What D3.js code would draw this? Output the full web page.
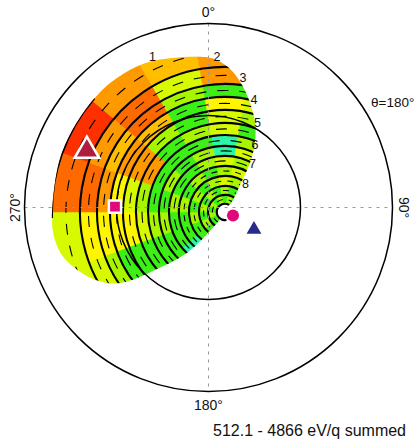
<!DOCTYPE html>
<html>
<head>
<meta charset="utf-8">
<script src="https://d3js.org/d3.v7.min.js"></script>
<style>
body { margin: 0; background: #fff; }
text { font-family: "Liberation Sans", Arial, Helvetica, sans-serif; fill: #111; }
</style>
</head>
<body>
<div class="skymap"></div>
<script>
// ---- data -------------------------------------------------------------
// pole of the anode pattern, in plot coordinates (polar angle, azimuth)
var poleR = 16.7, poleAngle = 105;

// ring edges (deg from pole), 13 bands between them
var ringEdges = [8, 16.6, 25.4, 35.2, 45, 54.8, 64.6, 75.3, 87.1, 99.8, 112.5, 125.2, 141.9, 169.3];
// azimuth bins (deg, clockwise from up, around the pole)
var sectors = [210, 230, 250, 270, 290, 310, 330, 350, 370, 390];
var sectorWidth = 20;
// colour level per band (rows, inner to outer) and azimuth bin (cols)
var counts = [
  [1, 1, 2, 1, 2, 1, 2, 1, 2, 1],
  [1, 2, 1, 2, 1, 2, 1, 2, 1, 1],
  [1, 1, 2, 1, 2, 1, 2, 3, 2, 1],
  [0, 1, 1, 2, 1, 2, 1, 2, 3, 2],
  [0, 1, 1, 2, 1, 1, 2, 3, 2, 2],
  [1, 1, 2, 1, 2, 1, 2, 0, 3, 3],
  [1, 1, 2, 1, 1, 1, 1, 0, 2, 2],
  [1, 1, 3, 2, 6, 1, 2, 3, 1, 1],
  [1, 1, 4, 3, 6, 2, 1, 3, 2, 2],
  [1, 1, 4, 4, 6, 5, 1, 4, 3, 3],
  [1, 2, 4, 6, 5, 7, 2, 1, 1, 1],
  [2, 3, 4, 7, 6, 7, 3, 6, 6, 6],
  [3, 3, 3, 7, 8, 6, 5, 6, 6, 6]
];
var levelColors = ["#2cf5a8", "#3cef14", "#a8f500", "#d8fa00", "#fff500",
                   "#ffbf00", "#ff9900", "#ff6a00", "#ff3000"];

// edge of the field of view around the pole
var coverAngle = [214, 219, 223, 230, 234.5, 238, 245, 254.5, 263, 268, 290, 311,
                  322.5, 333.4, 351, 357, 363.3, 371.3, 378.6, 383.5, 387, 389, 394, 394];
var coverR     = [8, 26.4, 54.8, 87, 117.4, 132, 148.7, 164.4, 169.5, 169.5, 169.8, 169.5,
                  168, 164.4, 153.6, 148.7, 137, 114.5, 92, 73.4, 53.8, 30.3, 13.7, 8];

// anode tracks (thick arcs)
var arcR     = [8, 16.6, 25.4, 35.2, 45, 54.8, 64.6, 75.3, 87.1, 99.8, 112.5, 125.2, 141.9, 169.3];
var arcStart = [170, 205, 205, 205, 205, 205, 205, 205, 205, 205, 205, 205, 205, 268];
var arcEnd   = [390, 400, 400, 400, 400, 400, 400, 400, 400, 400, 400, 400, 400, 311];

// anode numbers
var anodeLabels = ["1", "2", "3", "4", "5", "6", "7", "8"];
var labelR      = [168, 152, 133, 113.5, 93, 72, 54, 34];
var labelAngle  = [-25, -3, 7.6, 14.5, 20, 24, 30, 36];

// markers in plot coordinates
var markerNames = ["planet", "sun", "ram", "field"];
var markerR     = [131.3, 91.5, 25.2, 49.4];
var markerAngle = [295, 270.6, 108, 115.8];

var tickLabels = ["0\u00b0", "90\u00b0", "180\u00b0", "270\u00b0"];
var energyText = "512.1 - 4866 eV/q summed";

// ---- layout -----------------------------------------------------------
var width = 419, height = 441;
var cx = 208.5, cy = 207.5, R = 184;
var rad = Math.PI / 180;

var r = d3.scaleLinear().domain([0, 180]).range([0, R]);
var color = d3.scaleOrdinal().domain(d3.range(levelColors.length)).range(levelColors);

function project(deg, ang) {
  var a = ang * rad;
  return [r(deg) * Math.sin(a), -r(deg) * Math.cos(a)];
}
function arcPath(radius, a0, a1) {
  var p = d3.path();
  p.arc(0, 0, radius, (a0 - 90) * rad, (a1 - 90) * rad);
  return p.toString();
}

var svg = d3.select(".skymap").append("svg")
    .attr("width", width)
    .attr("height", height);

var g = svg.append("g")
    .attr("transform", "translate(" + cx + "," + cy + ")");

// heat map around the pole
var hm = g.append("g")
    .attr("transform", "translate(" + project(poleR, poleAngle) + ")");

var outline = d3.lineRadial()
    .angle(function(d, i) { return coverAngle[i] * rad; })
    .radius(function(d, i) { return r(coverR[i]); })
    .curve(d3.curveCatmullRomClosed.alpha(0.5));

hm.append("clipPath")
    .attr("id", "fov")
  .append("path")
    .attr("d", outline(coverAngle));

var inside = hm.append("g").attr("clip-path", "url(#fov)");

var cells = [];
counts.forEach(function(row, i) {
  row.forEach(function(v, j) {
    cells.push({r0: ringEdges[i], r1: ringEdges[i + 1], a0: sectors[j], a1: sectors[j] + sectorWidth, v: v});
  });
});

var cellArc = d3.arc()
    .innerRadius(function(d) { return r(d.r0); })
    .outerRadius(function(d) { return r(d.r1); })
    .startAngle(function(d) { return d.a0 * rad; })
    .endAngle(function(d) { return d.a1 * rad; });

inside.selectAll(".cell")
  .data(cells)
  .enter().append("path")
    .attr("class", "cell")
    .attr("d", cellArc)
    .attr("fill", function(d) { return color(d.v); })
    .attr("stroke", function(d) { return color(d.v); })
    .attr("stroke-width", 0.6);

// short dashes along the middle of each band
inside.selectAll(".mid")
  .data(counts)
  .enter().append("path")
    .attr("class", "mid")
    .attr("d", function(d, i) {
      return arcPath(r((ringEdges[i] + ringEdges[i + 1]) / 2), 212, 400);
    })
    .attr("fill", "none")
    .attr("stroke", "#000")
    .attr("stroke-width", 1.1)
    .attr("stroke-dasharray", function(d, i) { return i < 4 ? "6,6" : "11,11"; })
    .attr("stroke-dashoffset", function(d, i) { return (i * 7) % 17; });

// anode tracks
inside.selectAll(".track")
  .data(arcR.slice(1))
  .enter().append("path")
    .attr("class", "track")
    .attr("d", function(d, i) { return arcPath(r(d), arcStart[i + 1], arcEnd[i + 1]); })
    .attr("fill", "none")
    .attr("stroke", "#000")
    .attr("stroke-width", 2.1);

hm.append("path")
    .attr("d", arcPath(r(arcR[0]), arcStart[0], arcEnd[0]))
    .attr("fill", "#fff")
    .attr("stroke", "#000")
    .attr("stroke-width", 2.1);

hm.selectAll(".anode")
  .data(anodeLabels)
  .enter().append("text")
    .attr("class", "anode")
    .attr("transform", function(d, i) { return "translate(" + project(labelR[i], labelAngle[i]) + ")"; })
    .attr("dy", "0.35em")
    .attr("text-anchor", "middle")
    .style("font-size", "12.5px")
    .text(function(d) { return d; });

// dashed cross hair
g.append("line")
    .attr("class", "axis")
    .attr("x1", -R).attr("x2", R).attr("y1", 0).attr("y2", 0);
g.append("line")
    .attr("class", "axis")
    .attr("y1", -R).attr("y2", R).attr("x1", 0).attr("x2", 0);
g.selectAll(".axis")
    .attr("stroke", "#999")
    .attr("stroke-width", 1)
    .attr("stroke-dasharray", "3,5");

// polar angle circles: 90 and 180 deg
g.selectAll(".ring")
  .data([90, 180])
  .enter().append("circle")
    .attr("class", "ring")
    .attr("r", function(d) { return r(d); })
    .attr("fill", "none")
    .attr("stroke", "#000")
    .attr("stroke-width", 1.5);

// markers
var symbols = [
  d3.symbol().type(d3.symbolTriangle).size(260),
  d3.symbol().type(d3.symbolSquare).size(150),
  d3.symbol().type(d3.symbolCircle).size(115),
  d3.symbol().type(d3.symbolTriangle).size(95)
];
var fills = ["#b01c3c", "#e0087a", "#e0087a", "#2a2a8a"];
var outlines = ["#fff", "#fff", "none", "none"];

g.selectAll(".marker")
  .data(markerNames)
  .enter().append("path")
    .attr("class", "marker")
    .attr("transform", function(d, i) { return "translate(" + project(markerR[i], markerAngle[i]) + ")"; })
    .attr("d", function(d, i) { return symbols[i](); })
    .attr("fill", function(d, i) { return fills[i]; })
    .attr("stroke", function(d, i) { return outlines[i]; })
    .attr("stroke-width", 2.5);

// tick labels
svg.append("text")
    .attr("x", cx).attr("y", 17)
    .attr("text-anchor", "middle")
    .style("font-size", "14px")
    .text(tickLabels[0]);
svg.append("text")
    .attr("x", cx).attr("y", 410)
    .attr("text-anchor", "middle")
    .style("font-size", "14px")
    .text(tickLabels[2]);
svg.append("text")
    .attr("transform", "translate(20," + cy + ") rotate(-90)")
    .attr("text-anchor", "middle")
    .style("font-size", "14px")
    .text(tickLabels[3]);
svg.append("text")
    .attr("transform", "translate(399," + cy + ") rotate(90)")
    .attr("text-anchor", "middle")
    .style("font-size", "14px")
    .text(tickLabels[1]);
svg.append("text")
    .attr("x", 371).attr("y", 107)
    .style("font-size", "13.5px")
    .text("\u03b8=180\u00b0");

svg.append("text")
    .attr("x", 213).attr("y", 436)
    .style("font-size", "16px")
    .text(energyText);
</script>
</body>
</html>
